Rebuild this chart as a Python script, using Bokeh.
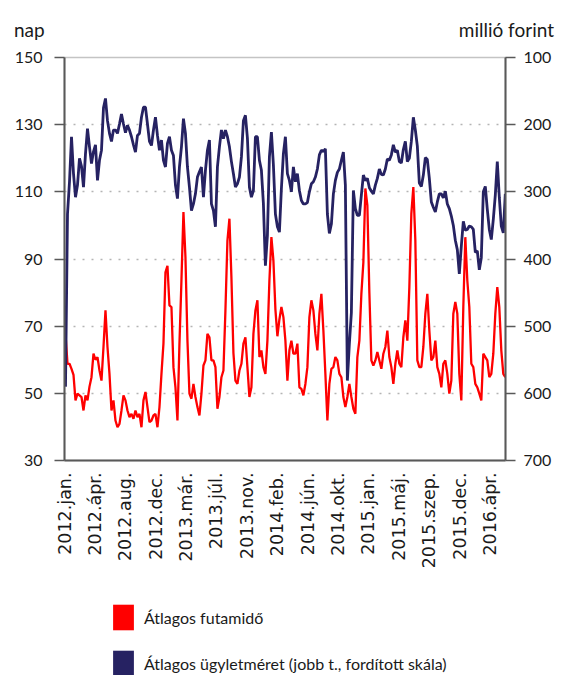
import math
import numpy as np
from bokeh.plotting import figure
from bokeh.layouts import column
from bokeh.models import (Range1d, LinearAxis, FixedTicker, Legend, LegendItem, Div)
from bokeh.embed import file_html
from bokeh.resources import INLINE

# ---- data (weekly samples, trading days since 2012 Jan) ----
tick_labels = ["2012.jan.", "2012.ápr.", "2012.aug.", "2012.dec.", "2013.már.",
               "2013.júl.", "2013.nov.", "2014.feb.", "2014.jún.", "2014.okt.",
               "2015.jan.", "2015.máj.", "2015.szep.", "2015.dec.", "2016.ápr."]

# Átlagos futamidő (nap) – left axis
futamido_2012 = [67.7, 58.8, 58.8, 57.3, 55.5, 47.9, 49.9, 49.4, 48.9, 44.9, 49.4, 47.9,
                 52.0, 54.8, 61.8, 60.0, 60.8, 56.8, 53.8, 63.8, 74.7, 63.8, 55.8, 44.9,
                 47.9, 41.9, 39.9, 40.9, 44.9, 49.4, 47.9, 44.9, 42.9, 43.9, 42.4, 44.9, 42.9]
futamido_2013a = [43.9, 39.9, 47.9, 50.4, 45.9, 41.4, 41.9, 43.4, 43.9, 39.9, 45.9, 55.8,
                  64.8, 86.0, 88.0, 76.2, 75.7, 57.8, 51.8, 41.9, 64.8, 83.6, 104.0, 90.6,
                  65.7, 49.9, 48.4, 52.8, 48.9, 45.9, 43.4, 49.9, 58.3, 59.8, 67.7, 66.7, 59.8]
futamido_2013b = [59.8, 57.8, 45.4, 48.9, 54.8, 56.8, 74.7, 95.5, 102.0, 84.5, 62.0, 53.8,
                  52.8, 56.8, 58.8, 64.8, 66.7, 57.8, 48.9, 51.8, 67.7, 74.7, 77.7, 60.8,
                  62.8, 57.8, 55.8, 65.7, 83.6, 96.5, 89.6, 75.0, 67.0, 72.0, 75.7, 72.7, 65.7]
futamido_2014 = [53.8, 62.8, 65.7, 61.8, 61.8, 64.8, 51.8, 51.3, 49.4, 52.8, 57.8, 72.7,
                 77.7, 74.7, 67.7, 62.8, 73.7, 79.6, 68.7, 55.8, 41.9, 52.8, 57.3, 57.8,
                 60.8, 59.8, 55.8, 54.8, 48.9, 45.9, 48.9, 52.8, 48.9, 45.4, 43.9, 60.8, 65.7]
futamido_2015a = [79.6, 89.0, 111.0, 106.0, 80.0, 59.8, 58.3, 59.8, 62.3, 59.8, 57.3, 61.8,
                  63.8, 68.7, 60.8, 57.8, 52.8, 58.8, 62.8, 58.8, 57.8, 66.7, 71.7, 65.7,
                  81.6, 103.5, 111.4, 95.5, 59.8, 57.8, 57.8, 63.8, 73.7, 79.6, 68.7, 59.8, 60.8]
futamido_2015b = [65.7, 57.8, 55.8, 51.8, 58.8, 59.8, 55.8, 49.9, 53.8, 73.7, 77.2, 73.7,
                  55.8, 47.9, 75.7, 96.5, 83.6, 75.7, 58.8, 57.8, 52.8, 51.8, 49.9, 47.9,
                  61.8, 60.8, 59.8, 54.8, 55.8, 61.8, 73.7, 81.6, 75.7, 62.8, 55.8, 54.8]

# Átlagos ügyletméret (millió forint) – right axis, reversed
ugylet_2012 = [590, 333, 285, 218, 273, 308, 290, 250, 262, 293, 243, 206, 233, 258, 240,
               230, 283, 253, 238, 175, 161, 194, 213, 225, 208, 208, 213, 199, 184, 199,
               212, 201, 208, 218, 230, 241, 216]
ugylet_2013a = [213, 189, 174, 174, 199, 225, 231, 208, 189, 216, 238, 223, 253, 263, 228,
                218, 238, 246, 290, 310, 263, 233, 191, 213, 263, 293, 328, 318, 303, 278,
                270, 263, 308, 268, 238, 223, 318]
ugylet_2013b = [328, 352, 263, 233, 208, 221, 208, 218, 233, 255, 273, 293, 288, 278, 248,
                194, 186, 220, 293, 308, 298, 218, 218, 253, 268, 318, 410, 365, 248, 211,
                260, 333, 352, 360, 295, 243, 218]
ugylet_2014 = [273, 283, 300, 263, 285, 273, 298, 313, 318, 318, 316, 300, 288, 285, 278,
               266, 245, 238, 240, 236, 333, 362, 348, 303, 283, 271, 266, 253, 241, 290,
               581, 526, 480, 298, 325, 335, 335]
ugylet_2015a = [305, 275, 283, 280, 294, 299, 303, 290, 280, 266, 274, 275, 266, 251, 253,
                245, 230, 241, 238, 255, 257, 237, 225, 255, 250, 225, 189, 208, 232, 287,
                292, 275, 249, 252, 280, 315, 323]
ugylet_2015b = [330, 315, 303, 303, 309, 299, 318, 325, 336, 350, 372, 386, 422, 381, 344,
                357, 356, 351, 352, 356, 390, 388, 416, 398, 300, 292, 326, 356, 371, 341,
                305, 255, 308, 351, 361, 303]

futamido = (futamido_2012 + futamido_2013a + futamido_2013b + futamido_2014
            + futamido_2015a + futamido_2015b)
ugylet = (ugylet_2012 + ugylet_2013a + ugylet_2013b + ugylet_2014
          + ugylet_2015a + ugylet_2015b)

n = len(futamido)
days = np.arange(n) * 5 + 2.5          # weekly observations (trading days)
tick_days = [i * 76 for i in range(len(tick_labels))]
left_ticks = [30, 50, 70, 90, 110, 130, 150]
right_ticks = [100, 200, 300, 400, 500, 600, 700]

RED = "#ff0000"
NAVY = "#262262"
AXIS = "#595959"
TXT = "#1a1a1a"
W = 562

# ---------- top strip: unit titles ----------
top = Div(width=W, height=45, margin=0,
          text=('<div style="position:relative;width:562px;height:45px;'
                'font-family:Lato;font-size:19px;color:#1a1a1a;line-height:22px">'
                '<span style="position:absolute;left:14px;top:19px">nap</span>'
                '<span style="position:absolute;right:8px;top:19px">millió forint</span>'
                '</div>'))

# ---------- main chart ----------
p = figure(width=W, height=545, output_backend="svg", toolbar_location=None,
           x_range=Range1d(0, 1103), y_range=Range1d(30, 150),
           min_border_left=64, min_border_right=57, min_border_top=12,
           min_border_bottom=130)
p.extra_y_ranges = {"r": Range1d(700, 100)}

p.outline_line_color = "#c4c4c4"
p.outline_line_width = 1.5
p.xgrid.visible = False
p.ygrid.ticker = FixedTicker(ticks=left_ticks)
p.ygrid.grid_line_color = "#b4b4b4"
p.ygrid.grid_line_dash = "2 7"
p.ygrid.grid_line_width = 1.5

xa = p.xaxis[0]
xa.ticker = FixedTicker(ticks=tick_days)
xa.major_label_overrides = {d: l for d, l in zip(tick_days, tick_labels)}
xa.major_label_orientation = math.pi / 2
xa.major_label_text_font = "DejaVu Sans"
xa.major_label_text_font_size = "17.5px"
xa.major_label_text_color = TXT
xa.major_label_standoff = 12
xa.major_tick_out = 0
xa.major_tick_in = 0
xa.minor_tick_line_color = None
xa.axis_line_color = AXIS
xa.axis_line_width = 2

ya = p.yaxis[0]
ya.ticker = FixedTicker(ticks=left_ticks)
ya.major_label_text_font = "Lato"
ya.major_label_text_font_size = "16px"
ya.major_label_text_color = TXT
ya.major_label_standoff = 12
ya.major_tick_out = 10
ya.major_tick_in = 0
ya.major_tick_line_color = AXIS
ya.major_tick_line_width = 1.5
ya.minor_tick_line_color = None
ya.axis_line_color = AXIS
ya.axis_line_width = 2

ra = LinearAxis(y_range_name="r", ticker=FixedTicker(ticks=right_ticks))
ra.major_label_text_font = "Lato"
ra.major_label_text_font_size = "16px"
ra.major_label_text_color = TXT
ra.major_label_standoff = 8
ra.major_tick_out = 10
ra.major_tick_in = 0
ra.major_tick_line_color = AXIS
ra.major_tick_line_width = 1.5
ra.minor_tick_line_color = None
ra.axis_line_color = AXIS
ra.axis_line_width = 2
p.add_layout(ra, "right")

p.line(days, futamido, color=RED, line_width=2.3)
p.line(days, ugylet, y_range_name="r", color=NAVY, line_width=2.8)

# ---------- legend strip ----------
leg = figure(width=W, height=85, output_backend="svg", toolbar_location=None,
             x_range=Range1d(0, W), y_range=Range1d(85, 0),
             x_axis_type=None, y_axis_type=None,
             min_border=0, min_border_left=0, min_border_right=0,
             min_border_top=0, min_border_bottom=0)
leg.outline_line_color = None
leg.grid.visible = False
# swatch renderers (data lies outside the visible range; only the legend shows them)
r_red = leg.quad(left=[-60], right=[-50], top=[-60], bottom=[-50],
                 fill_color=RED, line_color=None)
r_navy = leg.quad(left=[-60], right=[-50], top=[-60], bottom=[-50],
                  fill_color=NAVY, line_color=None)
legend = Legend(items=[LegendItem(label="Átlagos futamidő", renderers=[r_red]),
                       LegendItem(label="Átlagos ügyletméret (jobb t., fordított skála)",
                                  renderers=[r_navy])],
                location=(46, -4), orientation="vertical",
                glyph_width=26, glyph_height=32, spacing=14, label_standoff=8,
                padding=0, margin=0, border_line_color=None,
                background_fill_alpha=0, label_text_font="Lato",
                label_text_font_size="16px", label_text_color=TXT)
leg.add_layout(legend)

layout = column(top, p, leg, spacing=0)
open("out.html", "w").write(file_html(layout, INLINE))
